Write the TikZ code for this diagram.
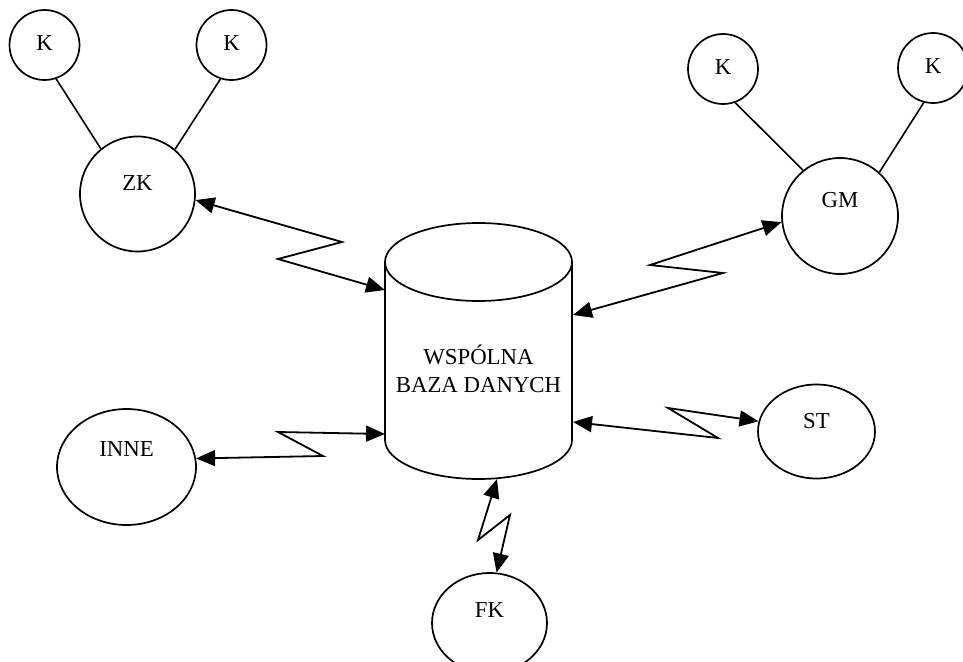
\documentclass[tikz,border=0pt]{standalone}
\usepackage{fontspec}
\setmainfont{Liberation Serif}
\usetikzlibrary{arrows.meta,shapes.geometric}

\tikzset{
  every node/.style={font=\fontsize{22.8}{28}\selectfont},
  outline/.style={draw, line width=1.7pt},
  station/.style={outline, circle, inner sep=0pt},
  oval/.style={outline, ellipse, inner sep=0pt},
  tie/.style={line width=1.6pt},
  link/.style={line width=1.8pt, line join=miter,
    {Triangle[length=19pt,width=16pt]}-{Triangle[length=19pt,width=16pt]}}
}

\begin{document}
\begin{tikzpicture}[x=1pt, y=-1pt]
\useasboundingbox (0,0) rectangle (963,661);

% terminals and workstations
\node[station, minimum size=70, label={[yshift=2pt]center:K}]   (k1) at (44.5,45) {};
\node[station, minimum size=70, label={[yshift=2pt]center:K}]   (k2) at (231.5,45) {};
\node[station, minimum size=115, label={[yshift=11pt]center:ZK}] (zk) at (137.5,194) {};
\node[station, minimum size=70, label={[yshift=2pt]center:K}]   (k3) at (723,69) {};
\node[station, minimum size=70, label={[yshift=2pt]center:K}]   (k4) at (933,68) {};
\node[station, minimum size=116, label={[yshift=16pt]center:GM}] (gm) at (840,216) {};
\node[oval, minimum width=139, minimum height=116, label={[yshift=18pt]center:INNE}] (inne) at (126.5,467) {};
\node[oval, minimum width=117, minimum height=94, label={[yshift=10pt]center:ST}] (st) at (816.5,431.5) {};
\node[oval, minimum width=115, minimum height=100, label={[yshift=13pt]center:FK}] (fk) at (489.5,623) {};

% shared database drum
\draw[line width=1.7pt] (478.5,262) ellipse [x radius=93.5, y radius=39];
\draw[line width=1.7pt] (385,262) -- (385,440)
  arc [start angle=180, end angle=0, x radius=93.5, y radius=39] -- (572,262);
\node[align=center] (db) at (478.5,369) {WSPÓLNA\\BAZA DANYCH};

% attachment points on the drum
\coordinate (dbA) at (385,290);
\coordinate (dbB) at (573,315);
\coordinate (dbC) at (385,434);
\coordinate (dbD) at (573,422);
\coordinate (dbE) at (497,479);

% terminal ties
\draw[tie] (k1.-71) -- (zk.129);
\draw[tie] (k2.-108) -- (zk.50);
\draw[tie] (k3.-70) -- (gm.129);
\draw[tie] (k4.-105) -- (gm.48);

% zig-zag data links
\draw[link] (zk.-6) -- (342,242) -- (278,259) -- (dbA);
\draw[link] (dbB) -- (723,273) -- (650,265) -- (gm.186);
\draw[link] (inne.7) -- (323,456) -- (278,432) -- (dbC);
\draw[link] (dbD) -- (718,438) -- (668,408) -- (st.170);
\draw[link] (dbE) -- (478,540) -- (510,515) -- (fk.82);
\end{tikzpicture}
\end{document}
